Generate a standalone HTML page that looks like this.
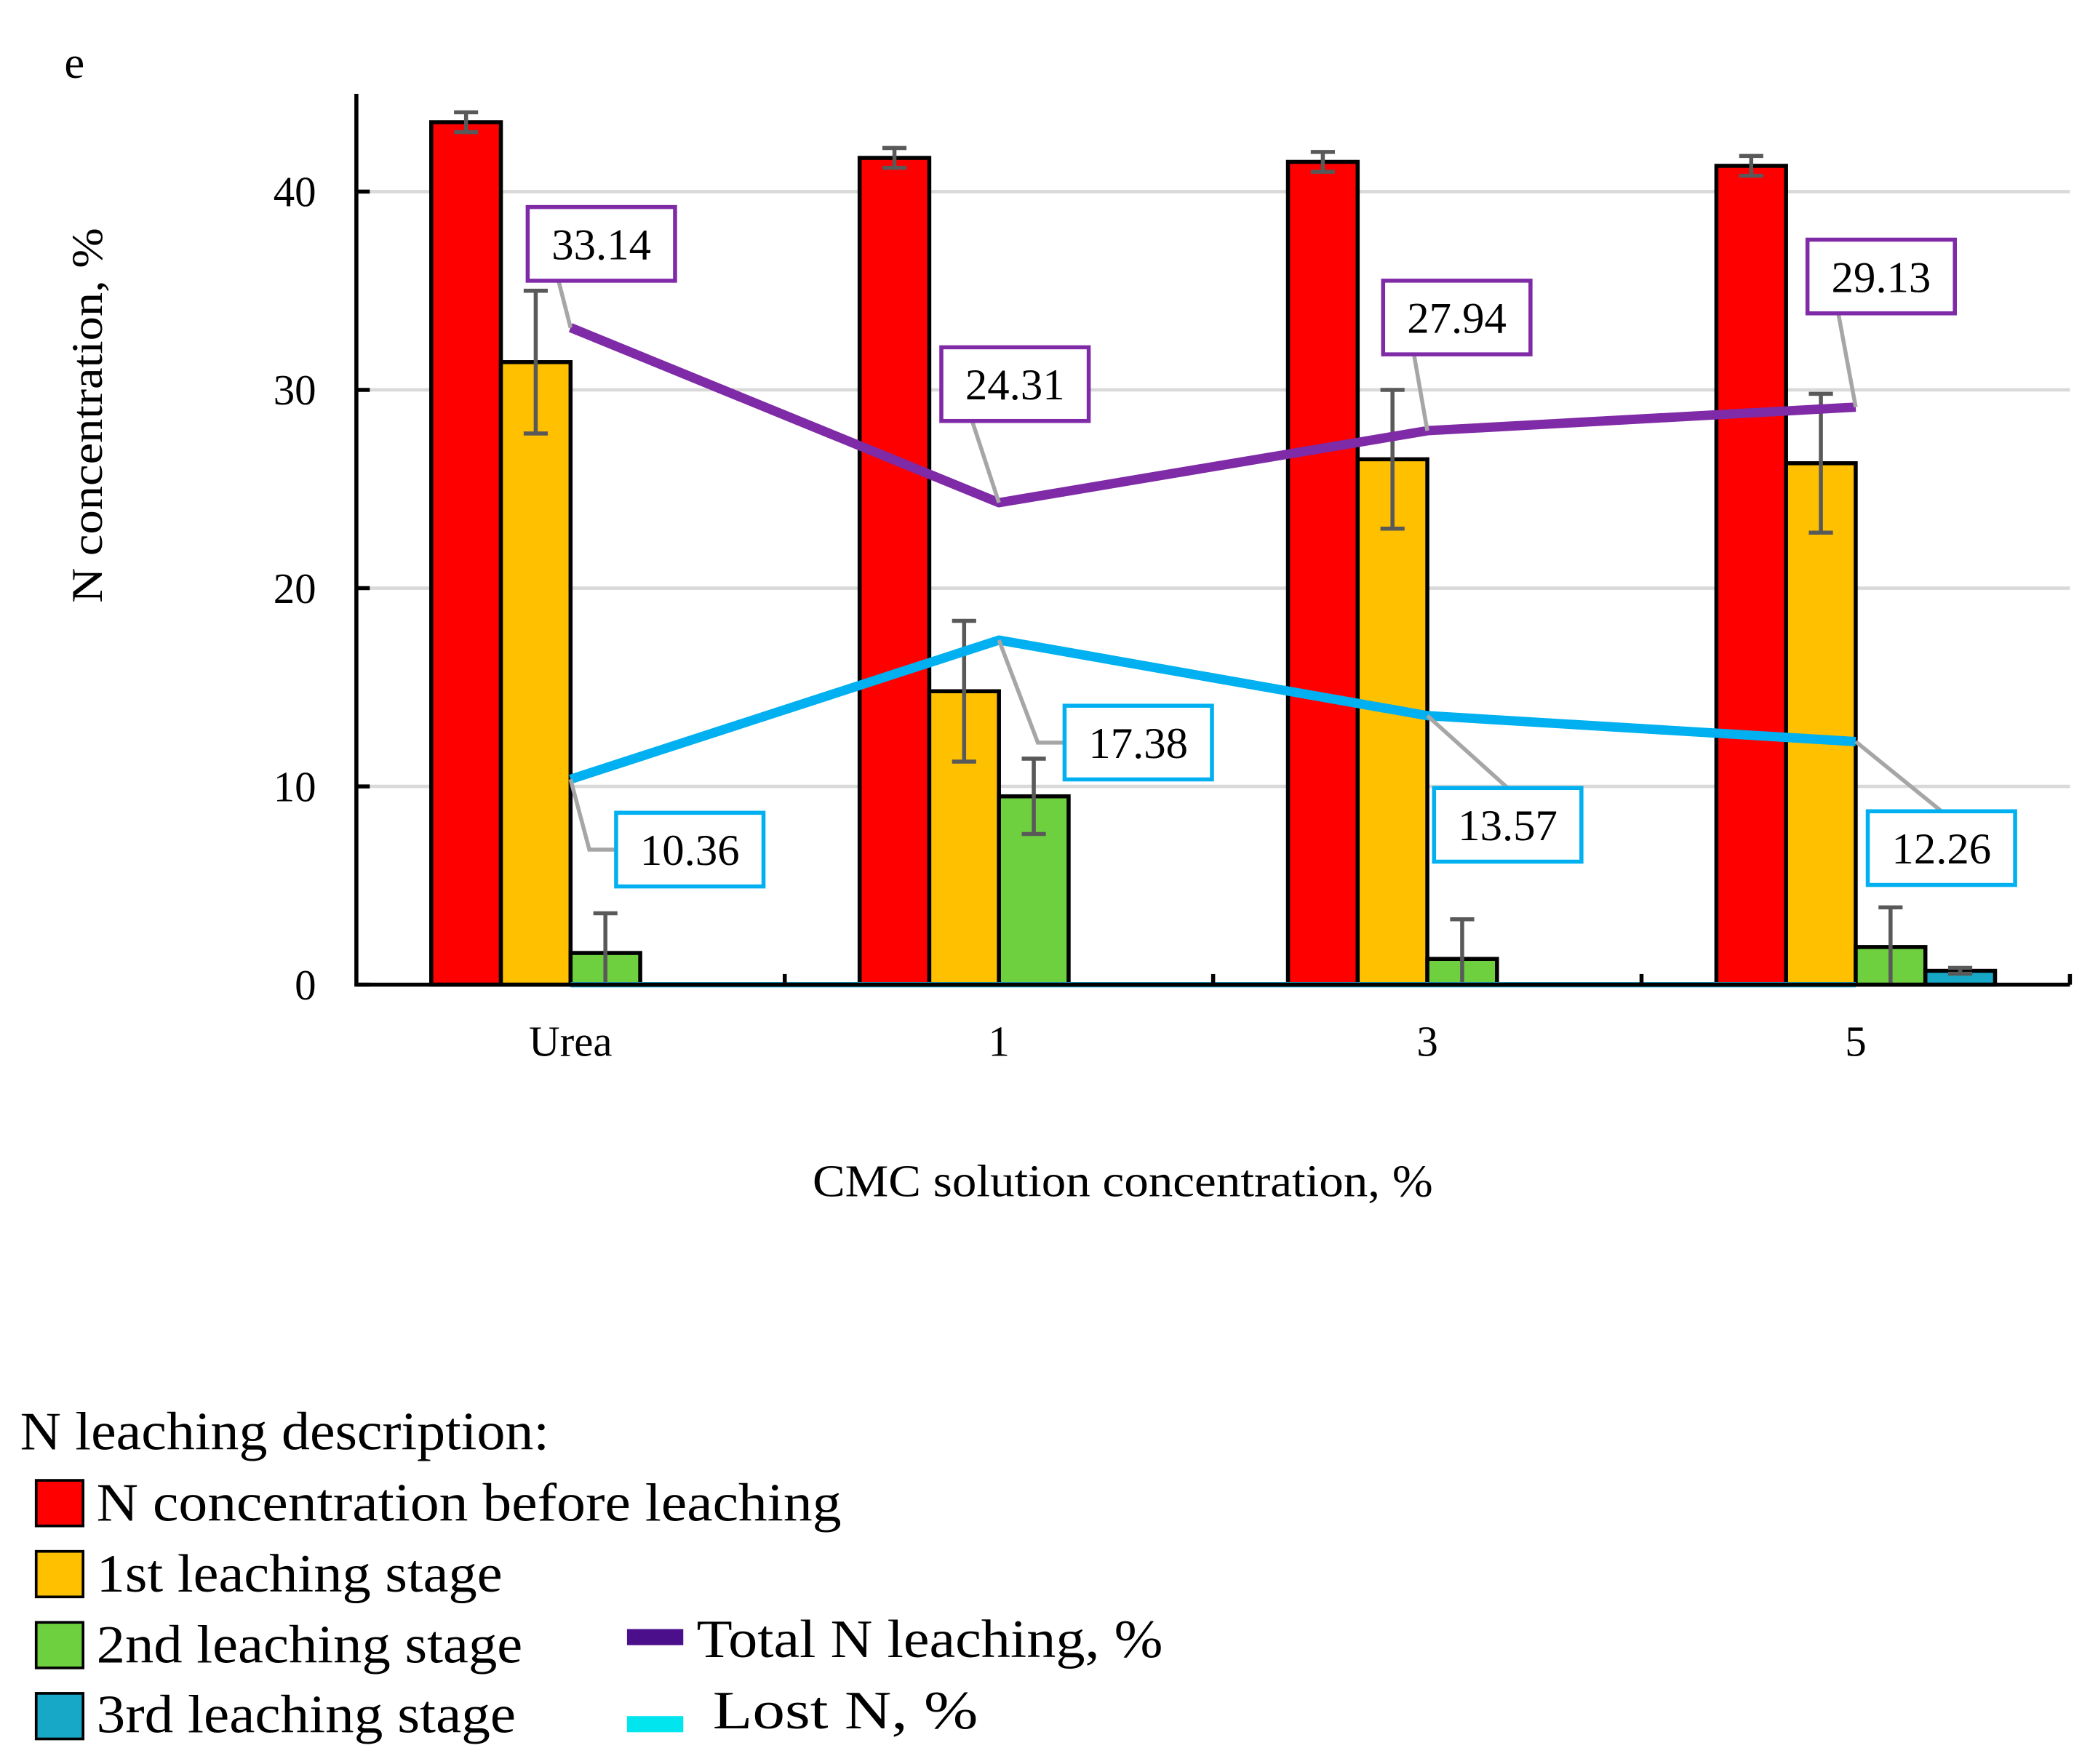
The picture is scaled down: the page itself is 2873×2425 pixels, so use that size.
<!DOCTYPE html>
<html><head><meta charset="utf-8"><style>
html,body{margin:0;padding:0;background:#fff}
svg{display:block;font-family:"Liberation Serif",serif}
</style></head><body>
<svg id="chart" width="2873" height="2425" viewBox="0 0 1560 1316.7" xmlns="http://www.w3.org/2000/svg">
<rect width="1560" height="1317" fill="#fff"/>
<text x="48" y="58" font-size="34">e</text>
<g id="grid"></g>
<g id="bars"></g>
<g id="lines"></g>
<g id="axes"></g>
<g id="labels"></g>
<text transform="translate(76,310) rotate(-90)" text-anchor="middle" font-size="33" textLength="280" lengthAdjust="spacingAndGlyphs">N concentration, %</text>
<text x="838" y="893" text-anchor="middle" font-size="34" textLength="463" lengthAdjust="spacingAndGlyphs">CMC solution concentration, %</text>
<g font-size="40">
<text x="15" y="1082" textLength="395" lengthAdjust="spacingAndGlyphs">N leaching description:</text>
<rect x="27" y="1105" width="35" height="34" fill="#ff0000" stroke="#000" stroke-width="2"/>
<text x="72" y="1135" textLength="556" lengthAdjust="spacingAndGlyphs">N concentration before leaching</text>
<rect x="27" y="1158" width="35" height="34" fill="#ffc000" stroke="#000" stroke-width="2"/>
<text x="72" y="1188" textLength="303" lengthAdjust="spacingAndGlyphs">1st leaching stage</text>
<rect x="27" y="1211" width="35" height="34" fill="#6fd03f" stroke="#000" stroke-width="2"/>
<text x="72" y="1241" textLength="318" lengthAdjust="spacingAndGlyphs">2nd leaching stage</text>
<rect x="27" y="1264" width="35" height="34" fill="#17a8c8" stroke="#000" stroke-width="2"/>
<text x="72" y="1293" textLength="313" lengthAdjust="spacingAndGlyphs">3rd leaching stage</text>
<rect x="468" y="1216" width="42" height="12" fill="#4b0f8c"/>
<text x="520" y="1237" textLength="348" lengthAdjust="spacingAndGlyphs">Total N leaching, %</text>
<rect x="468" y="1281" width="42" height="12" fill="#00e5ee"/>
<text x="532" y="1290" textLength="198" lengthAdjust="spacingAndGlyphs">Lost  N, %</text>
</g>
</svg>
<script>
const categories = ["Urea","1","3","5"];
const beforeVals = [43.5, 41.7, 41.5, 41.3];
const stage1Vals = [31.4, 14.8, 26.5, 26.3];
const stage2Vals = [1.6, 9.5, 1.3, 1.9];
const stage3Vals = [0, 0, 0, 0.7];
const beforeErr = [0.5, 0.5, 0.5, 0.5];
const stage1Err = [3.6, 3.55, 3.5, 3.5];
const stage2Err = [2.0, 1.9, 2.0, 2.0];
const stage3Err = [0, 0, 0, 0.15];
const totalVals = [33.14, 24.31, 27.94, 29.13];
const lostLeachVals = [10.36, 17.38, 13.57, 12.26];
const lostVals = [0, 0, 0, 0];
const yTicks = [0, 10, 20, 30, 40];

const NS = "http://www.w3.org/2000/svg";
const X0 = 266, X1 = 1545, Y0 = 735, YPU = 14.8;
const catW = (X1 - X0) / categories.length;
const barW = 52;
function y(v){ return Y0 - v * YPU; }
function xc(i){ return X0 + catW * (i + 0.5); }
function mk(tag, attrs, parent){ const e = document.createElementNS(NS, tag); for (const k in attrs) e.setAttribute(k, attrs[k]); parent.appendChild(e); return e; }
const grid = document.getElementById('grid'), bars = document.getElementById('bars'), lines = document.getElementById('lines'), axes = document.getElementById('axes'), labels = document.getElementById('labels');

yTicks.forEach(t => {
  if (t > 0) {
    const g = mk('line', {x1: X0, x2: X1, y1: y(t), y2: y(t), stroke: '#d9d9d9', 'stroke-width': 2.5}, grid);
    
    
  }
  const tk = mk('line', {x1: X0, x2: X0 + 10, y1: y(t), y2: y(t), stroke: '#000', 'stroke-width': 3}, axes);
  
  
  const tl = mk('text', {x: 236, y: y(t) + 11, 'text-anchor': 'end', 'font-size': 32}, axes);
  tl.textContent = t;
  
  
});

const series = [
  {vals: beforeVals, err: beforeErr, color: '#ff0000', name: 'before'},
  {vals: stage1Vals, err: stage1Err, color: '#ffc000', name: 'stage1'},
  {vals: stage2Vals, err: stage2Err, color: '#6fd03f', name: 'stage2'},
  {vals: stage3Vals, err: stage3Err, color: '#17a8c8', name: 'stage3'}
];
series.forEach((s, si) => {
  categories.forEach((c, i) => {
    const v = s.vals[i];
    if (v <= 0) return;
    const bx = xc(i) - 2 * barW + si * barW;
    const r = mk('rect', {x: bx, y: y(v), width: barW, height: Y0 - y(v), fill: s.color, stroke: '#000', 'stroke-width': 3}, bars);
    
    
    const e = s.err[i];
    if (e > 0) {
      const cx = bx + barW / 2;
      const lo = Math.min(y(v - e), Y0);
      const eb = mk('path', {d: `M${cx},${y(v + e)}V${lo}M${cx - 9},${y(v + e)}H${cx + 9}` + (y(v - e) <= Y0 ? `M${cx - 9},${y(v - e)}H${cx + 9}` : ''), stroke: '#595959', 'stroke-width': 3, fill: 'none'}, bars);
      
      
    }
  });
});

function linePath(vals){ return vals.map((v, i) => (i ? 'L' : 'M') + xc(i) + ',' + y(v)).join(''); }
const lost = mk('path', {d: linePath(lostVals), stroke: '#17a8c8', 'stroke-width': 4, fill: 'none'}, lines);


const tot = mk('path', {d: linePath(totalVals), stroke: '#7f2aa6', 'stroke-width': 7, fill: 'none', 'stroke-linejoin': 'round'}, lines);


const cy = mk('path', {d: linePath(lostLeachVals), stroke: '#00b0f0', 'stroke-width': 7, fill: 'none', 'stroke-linejoin': 'round'}, lines);



const ax = mk('path', {d: `M${X0},70V${Y0}H${X1}`, stroke: '#000', 'stroke-width': 3, fill: 'none'}, axes);


for (let i = 1; i <= categories.length; i++) {
  const t = mk('line', {x1: X0 + catW * i, x2: X0 + catW * i, y1: Y0, y2: Y0 - 8, stroke: '#000', 'stroke-width': 3}, axes);
  
  
}
categories.forEach((c, i) => {
  const t = mk('text', {x: xc(i), y: 788, 'text-anchor': 'middle', 'font-size': 32}, axes);
  t.textContent = c;
  
  
});

const totalBox = [[-32, -90], [-43, -116], [-33, -112], [-36, -125]];
const cyanBox = [[34, 25], [49, 49], [5, 54], [9, 52]];
function callout(i, v, off, color, name, elbow){
  const px = xc(i), py = y(v);
  const bx = px + off[0], by = py + off[1], bw = 110, bh = 55;
  let d;
  if (off[1] < 0) d = `M${px},${py}L${bx + 55 + (name === 't' ? -32 : -22)},${by + bh}`;
  else if (elbow) d = `M${px},${py}L${bx - 20},${by + bh / 2}H${bx}`;
  else d = `M${px},${py}L${bx + 55},${by}`;
  const l = mk('path', {d: d, stroke: '#a6a6a6', 'stroke-width': 3, fill: 'none'}, labels);
  
  
  const r = mk('rect', {x: bx, y: by, width: bw, height: bh, fill: '#fff', stroke: color, 'stroke-width': 3}, labels);
  
  
  const t = mk('text', {x: bx + bw / 2, y: by + 39, 'text-anchor': 'middle', 'font-size': 33}, labels);
  t.textContent = v.toFixed(2);
  
  
}
totalVals.forEach((v, i) => callout(i, v, totalBox[i], '#7f2aa6', 't', false));
lostLeachVals.forEach((v, i) => callout(i, v, cyanBox[i], '#00b0f0', 'c', i < 2));
</script>
</body></html>
